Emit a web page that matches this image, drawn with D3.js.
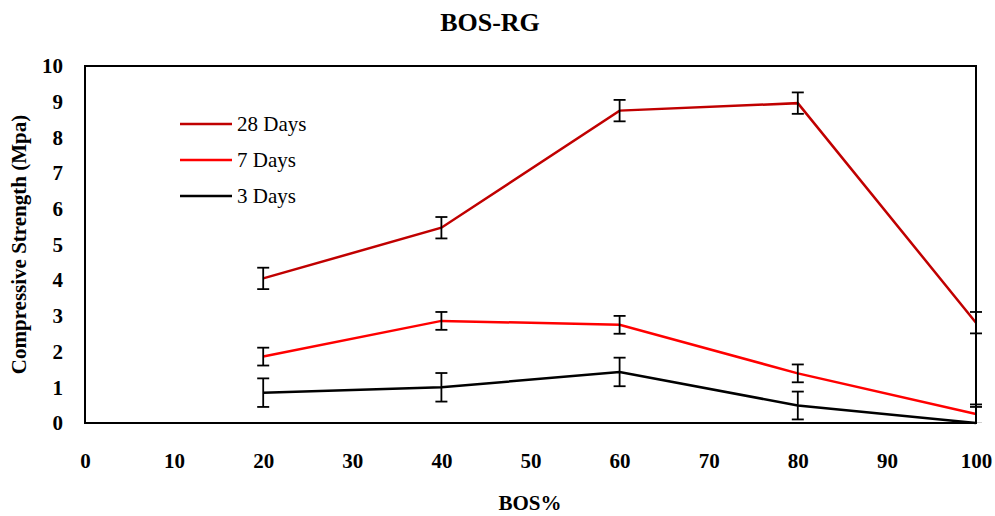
<!DOCTYPE html>
<html>
<head>
<meta charset="utf-8">
<script src="https://cdn.jsdelivr.net/npm/d3@7"></script>
<style>
  body { margin: 0; background: #fff; }
  text { font-family: "Liberation Serif", "Times New Roman", serif; }
</style>
</head>
<body>
<svg id="vis" width="995" height="516"></svg>
<script>
// data
const bos = [20, 40, 60, 80, 100];
const days28 = [4.05, 5.47, 8.75, 8.96, 2.81];
const days7 = [1.86, 2.86, 2.75, 1.39, 0.25];
const days3 = [0.85, 1.0, 1.43, 0.49, 0.0];
const err28 = [0.3, 0.3, 0.3, 0.3, 0.3];
const err7 = [0.25, 0.25, 0.25, 0.25, 0.27];
const err3 = [0.4, 0.4, 0.4, 0.39, 0.45];
const xTicks = [0, 10, 20, 30, 40, 50, 60, 70, 80, 90, 100];
const yTicks = [0, 1, 2, 3, 4, 5, 6, 7, 8, 9, 10];

const series = [
  { name: "28 Days", vals: days28, err: err28, color: "#c00000" },
  { name: "7 Days", vals: days7, err: err7, color: "#ff0000" },
  { name: "3 Days", vals: days3, err: err3, color: "#000000" }
];

let svg = d3.select("#vis");
let plotL = 85, plotR = 976, plotT = 66, plotB = 423;

let x = d3.scaleLinear().domain([0, 100]).range([plotL, plotR]);
let y = d3.scaleLinear().domain([0, 10]).range([plotB, plotT]);

svg.append("text")
  .attr("x", 490).attr("y", 31)
  .attr("text-anchor", "middle")
  .style("font-size", "26px").style("font-weight", "bold")
  .text("BOS-RG");

// axes (labels only, no ticks)
let yAxis = svg.append("g")
  .attr("transform", `translate(${plotL},0)`)
  .call(d3.axisLeft(y).tickValues(yTicks).tickSize(0).tickPadding(22));
yAxis.select(".domain").remove();
yAxis.selectAll("text")
  .style("font-family", "Liberation Serif, serif")
  .style("font-size", "21px").style("font-weight", "bold");

let xAxis = svg.append("g")
  .attr("transform", `translate(0,${plotB})`)
  .call(d3.axisBottom(x).tickValues(xTicks).tickSize(0).tickPadding(30));
xAxis.select(".domain").remove();
xAxis.selectAll("text")
  .style("font-family", "Liberation Serif, serif")
  .style("font-size", "21px").style("font-weight", "bold");

svg.append("text")
  .attr("x", 530).attr("y", 510)
  .attr("text-anchor", "middle")
  .style("font-size", "21px").style("font-weight", "bold")
  .text("BOS%");

svg.append("text")
  .attr("transform", `translate(26,${(plotT + plotB) / 2}) rotate(-90)`)
  .attr("text-anchor", "middle")
  .style("font-size", "21px").style("font-weight", "bold")
  .text("Compressive Strength (Mpa)");

let line = d3.line().x((d, i) => x(bos[i])).y(d => y(d));

series.forEach(s => {
  svg.append("path")
    .datum(s.vals)
    .attr("d", line)
    .attr("fill", "none")
    .attr("stroke", s.color)
    .attr("stroke-width", 2.5);
});

// error bars
svg.append("clipPath").attr("id", "plotclip")
  .append("rect").attr("x", 0).attr("y", plotT).attr("width", 995).attr("height", plotB - plotT);
series.forEach(s => {
  let g = svg.append("g").attr("clip-path", "url(#plotclip)");
  s.vals.forEach((v, i) => {
    let cx = x(bos[i]);
    let y1 = y(v + s.err[i]), y2 = y(v - s.err[i]);
    g.append("line").attr("x1", cx).attr("x2", cx).attr("y1", y1).attr("y2", y2)
      .attr("stroke", "#000").attr("stroke-width", 1.8);
    [y1, y2].forEach(yy => {
      g.append("line").attr("x1", cx - 6).attr("x2", cx + 6).attr("y1", yy).attr("y2", yy)
        .attr("stroke", "#000").attr("stroke-width", 1.8);
    });
  });
});

svg.append("rect")
  .attr("x", plotL).attr("y", plotT)
  .attr("width", plotR - plotL).attr("height", plotB - plotT)
  .attr("fill", "none").attr("stroke", "#000").attr("stroke-width", 2);

// legend
series.forEach((s, i) => {
  let ly = 124 + i * 36;
  svg.append("line").attr("x1", 180).attr("x2", 232).attr("y1", ly).attr("y2", ly)
    .attr("stroke", s.color).attr("stroke-width", 2.5);
  svg.append("text").attr("x", 237).attr("y", ly + 7)
    .style("font-size", "21px")
    .text(s.name);
});
</script>
</body>
</html>
